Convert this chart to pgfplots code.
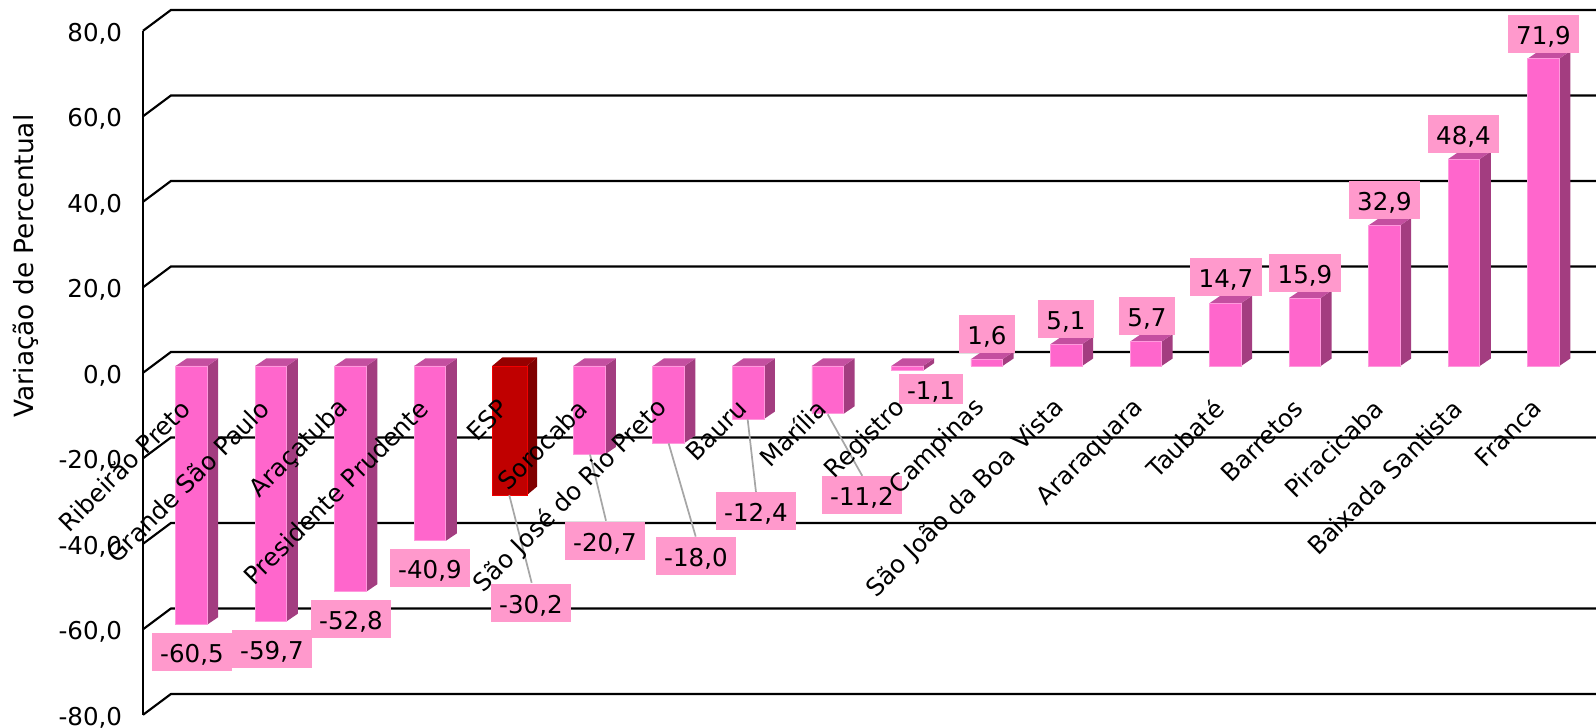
\documentclass[border=0pt]{standalone}
\usepackage{pgfplots}
\usepackage{pgfplotstable}
\usepackage{fontspec}
\pgfplotsset{compat=1.18}
\setmainfont{DejaVu Sans}
\definecolor{barfront}{HTML}{FF66CC}
\definecolor{baredge}{HTML}{FF99DD}
\definecolor{barside}{HTML}{A33D80}
\definecolor{bartop}{HTML}{C44FA0}
\definecolor{espfront}{HTML}{C00000}
\definecolor{espside}{HTML}{800000}
\definecolor{esptop}{HTML}{960000}
\definecolor{labelbox}{HTML}{FF99CC}
\definecolor{leader}{HTML}{A6A6A6}
\pgfplotsset{layers/chartlayers/.define layer set={axis background,axis grid,axis ticks,axis lines,pre main,main,axis tick labels,axis descriptions,axis foreground}{
    ticklabel style={/pgfplots/on layer=axis tick labels},
    label style={/pgfplots/on layer=axis descriptions},
}}

% data labels, box centres in picture pixels
\pgfplotstableread{
px py label
192 652 -60,5
272 649 -59,7
351 619 -52,8
430 568 -40,9
531 603 -30,2
605 541 -20,7
696 556 -18,0
756 511 -12,4
862 495 -11,2
987 334 1,6
1066 319 5,1
1147 316 5,7
1226 277 14,7
1305 273 15,9
1384.5 200 32,9
1463.5 134 48,4
1543.5 34 71,9
}\labeltable

% side and top face of one bar: x, value, half width, depth x, depth y, side, top
\newcommand{\barfaces}[7]{%
  \pgfmathsetmacro\xa{#1+#3}\pgfmathsetmacro\xb{#1+#3+#4}%
  \pgfmathsetmacro\xc{#1-#3}\pgfmathsetmacro\xd{#1-#3+#4}%
  \pgfmathsetmacro\yb{#2+#5}%
  \pgfmathsetmacro\ya{max(#2,0)}\pgfmathsetmacro\yc{max(#2,0)+#5}%
  \edef\tmp{\noexpand\addplot[fill=#6,draw=none,forget plot] coordinates {(\xa,0)(\xb,#5)(\xb,\yb)(\xa,#2)} --cycle;
    \noexpand\addplot[fill=#7,draw=none,forget plot] coordinates {(\xc,\ya)(\xa,\ya)(\xb,\yc)(\xd,\yc)} --cycle;}%
  \tmp}

\begin{document}
\begin{tikzpicture}
\begin{axis}[
    at={(107.25pt,0pt)}, anchor=south west,
    scale only axis,
    width=1089.75pt, height=546pt,
    xmin=-0.609, xmax=17.66,
    ymin=-84.68, ymax=85.61,
    clip=false,
    set layers=chartlayers,
    axis line style={draw=none},
    tick style={draw=none},
    major tick length=0pt,
    font=\fontsize{18.4}{22}\selectfont,
    ytick={-81.6,-61.6,-41.6,-21.6,-1.6,18.4,38.4,58.4,78.4},
    yticklabels={{-80,0},{-60,0},{-40,0},{-20,0},{0,0},{20,0},{40,0},{60,0},{80,0}},
    y tick label style={anchor=east,inner sep=0pt,xshift=-15.5pt,yshift=-2.2pt},
    xtick={0,...,17},
    xticklabels={Ribeirão Preto,Grande São Paulo,Araçatuba,Presidente Prudente,ESP,Sorocaba,São José do Rio Preto,Bauru,Marília,Registro,Campinas,São João da Boa Vista,Araraquara,Taubaté,Barretos,Piracicaba,Baixada Santista,Franca},
    x tick label style={xshift=-4.5pt,yshift=243pt,rotate=45,anchor=east,inner sep=0pt},
    ylabel={Variação de Percentual},
    every axis y label/.style={at={(axis description cs:-0.0805,0.6346)},rotate=90,anchor=center,font=\fontsize{19.8}{24}\selectfont},
]
% gridlines: front edge, back corner, right edge
\foreach \t in {-80,-60,-40,-20,0,20,40,60,80}{
  \pgfmathsetmacro\yf{\t-1.6}\pgfmathsetmacro\yk{\t+3.27}
  \edef\tmp{\noexpand\addplot[black,line width=1.6pt,forget plot] coordinates {(-0.609,\yf)(-0.2578,\yk)(17.66,\yk)};}\tmp
}
\addplot[black,line width=1.9pt,forget plot] coordinates {(-0.609,78.4)(-0.609,-81.6)};

\foreach \i/\v in {0/-60.5,1/-59.7,2/-52.8,3/-40.9,5/-20.7,6/-18.0,7/-12.4,8/-11.2,9/-1.1,10/1.6,11/5.1,12/5.7,13/14.7,14/15.9,15/32.9,16/48.4,17/71.9}{
  \barfaces{\i}{\v}{0.1987}{0.1383}{1.75}{barside}{bartop}
}
\barfaces{4}{-30.2}{0.2182}{0.1295}{2.03}{espside}{esptop}

\addplot[ybar,bar shift=0pt,bar width=23.7pt,fill=barfront,draw=baredge,line width=0.6pt,forget plot] coordinates {
  (0,-60.5)(1,-59.7)(2,-52.8)(3,-40.9)(5,-20.7)(6,-18.0)(7,-12.4)(8,-11.2)(9,-1.1)
  (10,1.6)(11,5.1)(12,5.7)(13,14.7)(14,15.9)(15,32.9)(16,48.4)(17,71.9)};
\addplot[ybar,bar shift=0pt,bar width=26pt,fill=espfront,draw=red!80!espfront,line width=0.6pt,forget plot] coordinates {(4,-30.2)};

% leader lines from bar to its label
\addplot[leader,line width=1.3pt,forget plot] coordinates {(3.9962,-30.2)(4.2778,-50.7)};
\addplot[leader,line width=1.3pt,forget plot] coordinates {(5.0114,-20.7)(5.2126,-36.2)};
\addplot[leader,line width=1.3pt,forget plot] coordinates {(6.0,-18.1)(6.3404,-39.9)};
\addplot[leader,line width=1.3pt,forget plot] coordinates {(6.9938,-12.5)(7.0982,-29.5)};
\addplot[leader,line width=1.3pt,forget plot] coordinates {(8.0,-11.3)(8.4345,-25.7)};

\addplot[only marks,mark size=0pt,forget plot,on layer=axis foreground,
    point meta=explicit symbolic,
    nodes near coords={\pgfplotspointmeta},
    every node near coord/.style={anchor=center,fill=labelbox,text=black,inner ysep=0pt,
      text height=22.05pt,text depth=6.45pt,inner xsep=6.2pt,font=\fontsize{18.4}{22}\selectfont},
  ] table[x expr=(\thisrow{px}-191.5)/79.53,y expr=(366-\thisrow{py})/4.275,meta=label] {\labeltable};
% the short box of Registro
\addplot[only marks,mark size=0pt,forget plot,on layer=axis foreground,
    point meta=explicit symbolic,
    nodes near coords={\pgfplotspointmeta},
    every node near coord/.style={anchor=center,fill=labelbox,text=black,inner ysep=0pt,
      text height=19.05pt,text depth=3.45pt,inner xsep=6.2pt,font=\fontsize{18.4}{22}\selectfont},
  ] table[meta=label] {
x y label
9.2995 -5.38 -1,1
};
\end{axis}
\pgfresetboundingbox
\path[use as bounding box] (0,0) rectangle (1197pt,546pt);
\end{tikzpicture}
\end{document}
